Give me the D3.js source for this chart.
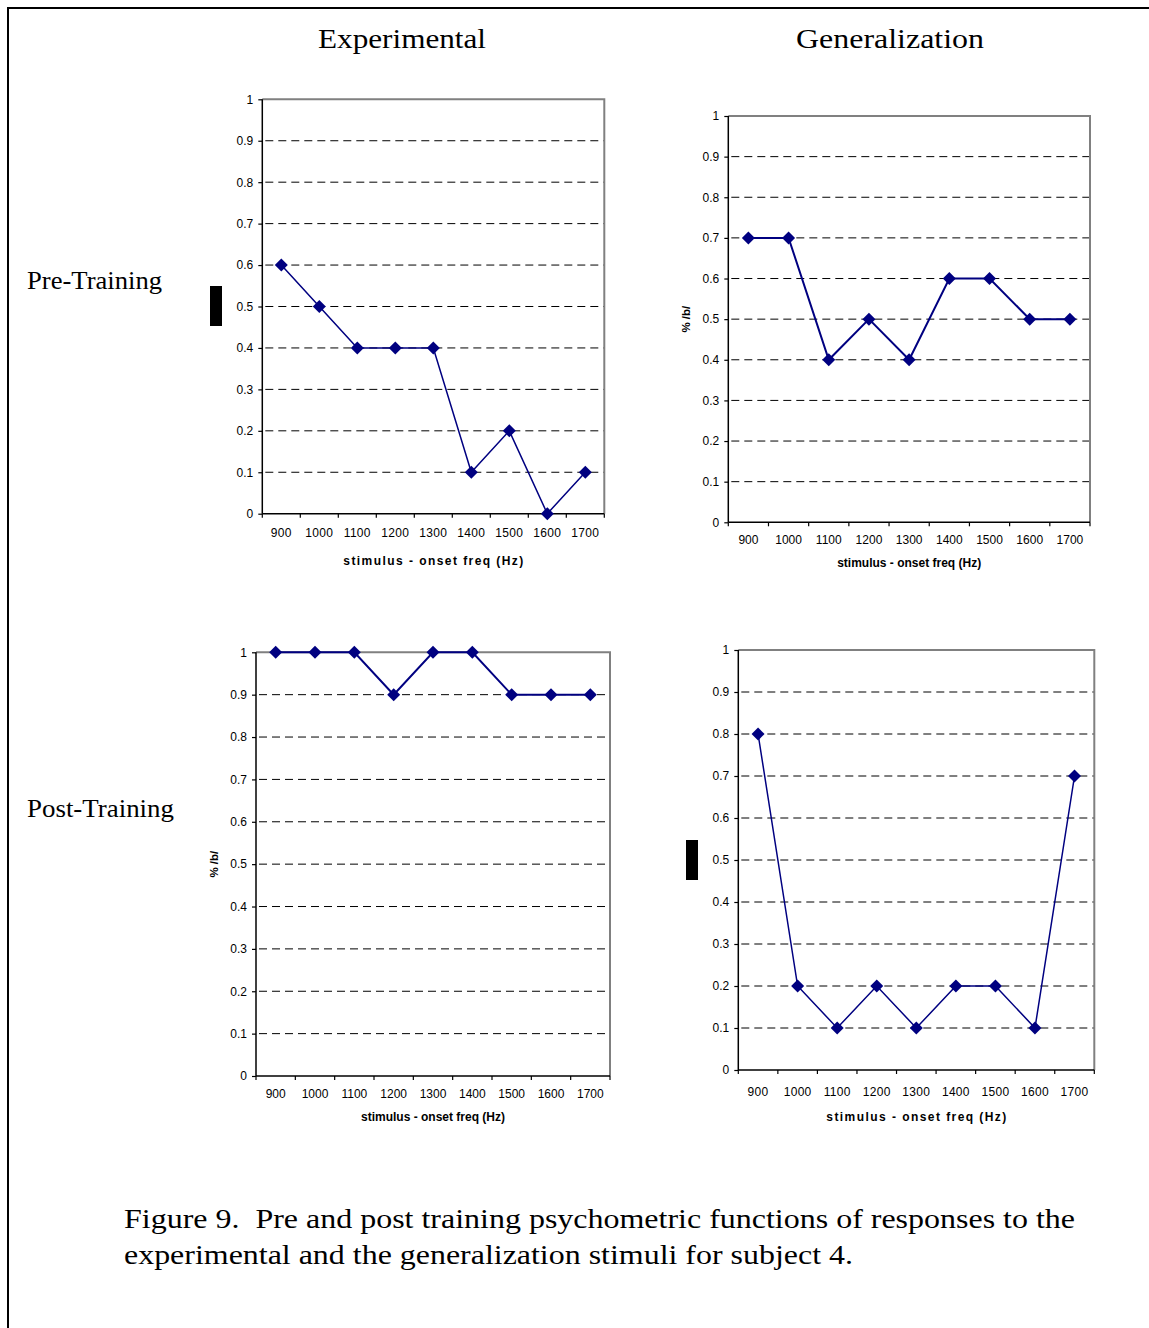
<!DOCTYPE html>
<html>
<head>
<meta charset="utf-8">
<script src="https://cdn.jsdelivr.net/npm/d3@7"></script>
<style>
  html, body { margin: 0; padding: 0; background: #fff; }
  svg { display: block; }
</style>
</head>
<body>
<div id="fig"></div>
<script>
// Stimulus onset frequencies (Hz) shared by all four panels
const freqs = ["900", "1000", "1100", "1200", "1300", "1400", "1500", "1600", "1700"];

// Proportion of /b/ responses per stimulus
const expPre  = [0.6, 0.5, 0.4, 0.4, 0.4, 0.1, 0.2, 0.0, 0.1];
const genPre  = [0.7, 0.7, 0.4, 0.5, 0.4, 0.6, 0.6, 0.5, 0.5];
const expPost = [1.0, 1.0, 1.0, 0.9, 1.0, 1.0, 0.9, 0.9, 0.9];
const genPost = [0.8, 0.2, 0.1, 0.2, 0.1, 0.2, 0.2, 0.1, 0.7];

// Y axis tick values
const yTicks = [0, 0.1, 0.2, 0.3, 0.4, 0.5, 0.6, 0.7, 0.8, 0.9, 1];

// Text
const colTitles = ["Experimental", "Generalization"];
const rowTitles = ["Pre-Training", "Post-Training"];
const xTitle = "stimulus - onset freq (Hz)";
const yTitle = "% /b/";
const captionLines = [
  "Figure 9.  Pre and post training psychometric functions of responses to the",
  "experimental and the generalization stimuli for subject 4."
];

const W = 1149, H = 1328;
const NAVY = "#000080";
const serif = "'Liberation Serif', 'Times New Roman', serif";
const sans = "'Liberation Sans', Arial, sans-serif";

const svg = d3.select("#fig").append("svg")
  .attr("width", W).attr("height", H)
  .attr("viewBox", `0 0 ${W} ${H}`);

svg.append("rect").attr("width", W).attr("height", H).attr("fill", "#fff");

// Page frame: top and left rules
svg.append("line").attr("x1", 7).attr("x2", W).attr("y1", 8).attr("y2", 8)
  .attr("stroke", "#000").attr("stroke-width", 2);
svg.append("line").attr("x1", 8).attr("x2", 8).attr("y1", 7).attr("y2", H)
  .attr("stroke", "#000").attr("stroke-width", 2);

// Column and row headings
const colHead = [
  { x: 318, w: 168 },
  { x: 796, w: 188 }
];
colTitles.forEach((t, i) => {
  svg.append("text").attr("x", colHead[i].x).attr("y", 48)
    .attr("font-family", serif).attr("font-size", 27)
    .attr("textLength", colHead[i].w).attr("lengthAdjust", "spacingAndGlyphs")
    .text(t);
});
const rowHead = [
  { y: 289, w: 135 },
  { y: 817, w: 147 }
];
rowTitles.forEach((t, i) => {
  svg.append("text").attr("x", 27).attr("y", rowHead[i].y)
    .attr("font-family", serif).attr("font-size", 26)
    .attr("textLength", rowHead[i].w).attr("lengthAdjust", "spacingAndGlyphs")
    .text(t);
});

// Caption
const capLayout = [{ y: 1228, w: 951 }, { y: 1264, w: 729 }];
captionLines.forEach((t, i) => {
  svg.append("text").attr("x", 124).attr("y", capLayout[i].y)
    .attr("font-family", serif).attr("font-size", 27)
    .style("white-space", "pre")
    .attr("textLength", capLayout[i].w).attr("lengthAdjust", "spacingAndGlyphs")
    .text(t);
});

// Panel layout
const panels = [
  { values: expPre,  left: 262.3, right: 604.3, top: 99.3,  bottom: 513.7,
    xPad: 15, xTitleY: 565, spaced: true,  yLabel: null,
    block: { x: 210, y: 286, w: 12, h: 40 }, lw: 1.5 },
  { values: genPre,  left: 728.3, right: 1090,  top: 116,   bottom: 522.3,
    xPad: 13.5, xTitleY: 567, spaced: false, yLabel: { x: 686 },
    block: null, lw: 2 },
  { values: expPost, left: 256,   right: 610,   top: 652.3, bottom: 1076,
    xPad: 13.5, xTitleY: 1121, spaced: false, yLabel: { x: 214 },
    block: null, lw: 2 },
  { values: genPost, left: 738.3, right: 1094.3, top: 650,  bottom: 1070,
    xPad: 17, xTitleY: 1121, spaced: true, yLabel: null,
    block: { x: 686, y: 840, w: 12, h: 40 }, lw: 1.5 }
];

panels.forEach(p => {
  const g = svg.append("g");
  const x = d3.scaleBand().domain(freqs).range([p.left, p.right]).padding(0);
  const y = d3.scaleLinear().domain([0, 1]).range([p.bottom, p.top]);
  const bw = x.bandwidth();

  // dashed horizontal gridlines
  g.append("g").selectAll("line")
    .data(yTicks.filter(v => v > 0 && v < 1))
    .join("line")
    .attr("x1", p.left + 3).attr("x2", p.right)
    .attr("y1", d => y(d)).attr("y2", d => y(d))
    .attr("stroke", "#000").attr("stroke-width", 1)
    .attr("stroke-dasharray", "8,5");

  // plot-area frame (top and right in grey)
  g.append("path")
    .attr("d", `M${p.left},${y(1)}H${p.right}V${y(0)}`)
    .attr("fill", "none").attr("stroke", "#808080").attr("stroke-width", 2);

  // y axis
  const yAxis = d3.axisLeft(y).tickValues(yTicks).tickSize(4).tickPadding(5)
    .tickFormat(d => String(d));
  const ya = g.append("g").attr("transform", `translate(${p.left},0)`).call(yAxis);
  ya.select(".domain").attr("stroke", "#000").attr("stroke-width", 1.5)
    .attr("d", `M0,${y(1)}V${y(0)}`);
  ya.selectAll(".tick line").attr("stroke", "#000").attr("stroke-width", 1.2);
  ya.selectAll("text").attr("font-family", sans).attr("font-size", 12).attr("fill", "#000");

  // x axis: labels centred on bands
  const xAxis = d3.axisBottom(x).tickSize(0).tickPadding(p.xPad);
  const xa = g.append("g").attr("transform", `translate(0,${p.bottom})`).call(xAxis);
  xa.select(".domain").attr("stroke", "#000").attr("stroke-width", 1.5)
    .attr("d", `M${p.left},0H${p.right}`);
  xa.selectAll("text").attr("font-family", sans).attr("font-size", 12).attr("fill", "#000")
    .attr("letter-spacing", p.spaced ? "0.3px" : null);

  // x tick marks at category boundaries
  const edges = freqs.map(f => x(f)).concat([p.right]);
  g.append("g").selectAll("line").data(edges).join("line")
    .attr("x1", d => d).attr("x2", d => d)
    .attr("y1", p.bottom).attr("y2", p.bottom + 4)
    .attr("stroke", "#000").attr("stroke-width", 1.2);

  // x axis title
  const xt = g.append("text")
    .attr("x", (p.left + p.right) / 2).attr("y", p.xTitleY)
    .attr("text-anchor", "middle")
    .attr("font-family", sans).attr("font-size", 12).attr("font-weight", "bold")
    .text(xTitle);
  if (p.spaced) xt.attr("textLength", 180).attr("lengthAdjust", "spacing");

  // y axis title
  if (p.yLabel) {
    const cy = (p.top + p.bottom) / 2;
    g.append("text")
      .attr("transform", `translate(${p.yLabel.x + 4},${cy}) rotate(-90)`)
      .attr("text-anchor", "middle")
      .attr("font-family", sans).attr("font-size", 11.5).attr("font-weight", "bold")
      .text(yTitle);
  }
  if (p.block) {
    g.append("rect").attr("x", p.block.x).attr("y", p.block.y)
      .attr("width", p.block.w).attr("height", p.block.h).attr("fill", "#000");
  }

  // data line and diamond markers
  const pts = freqs.map((f, i) => [x(f) + bw / 2, y(p.values[i])]);
  g.append("path").attr("d", d3.line()(pts))
    .attr("fill", "none").attr("stroke", NAVY).attr("stroke-width", p.lw)
    .attr("stroke-linejoin", "miter");
  const r = 6.5;
  g.append("g").selectAll("path").data(pts).join("path")
    .attr("d", d => `M${d[0]},${d[1] - r}L${d[0] + r},${d[1]}L${d[0]},${d[1] + r}L${d[0] - r},${d[1]}Z`)
    .attr("fill", NAVY);
});
</script>
</body>
</html>
